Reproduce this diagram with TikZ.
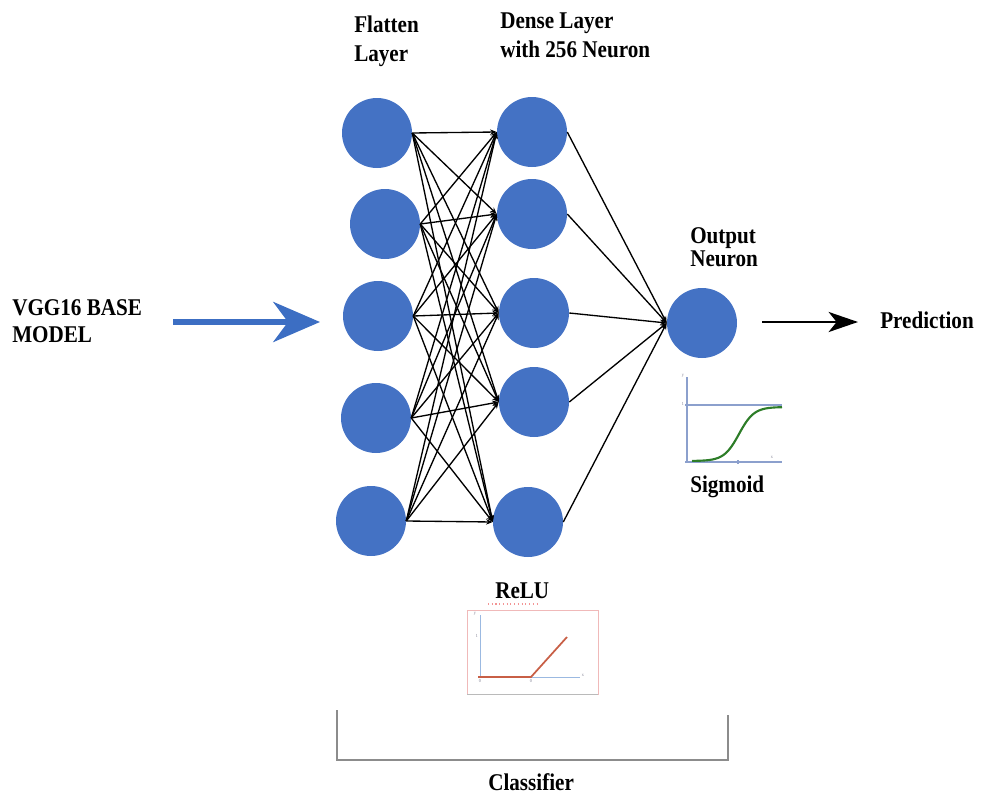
\documentclass[tikz,border=0pt]{standalone}
\usepackage{fontspec}
\setmainfont{Liberation Serif}[FakeStretch=0.88]
\usetikzlibrary{arrows.meta}
\definecolor{neuronblue}{RGB}{68,114,196}
\definecolor{arrowblue}{RGB}{60,110,195}
\definecolor{sigaxiscol}{RGB}{140,160,205}
\definecolor{sigcurvecol}{RGB}{45,125,40}
\definecolor{reluaxiscol}{RGB}{155,185,225}
\definecolor{relucurvecol}{RGB}{200,95,70}
\definecolor{reluframecol}{RGB}{240,185,185}
\definecolor{bracketcol}{RGB}{140,140,140}
\definecolor{ticklabel}{RGB}{120,120,140}

\begin{document}
\begin{tikzpicture}[x=0.75pt,y=-0.75pt,
  neuron/.style={circle, fill=neuronblue, minimum size=52.5pt, inner sep=0pt},
  lbl/.style={anchor=base west, inner sep=0pt, font=\fontsize{18}{21}\selectfont\bfseries},
  tinylbl/.style={inner sep=0pt, text=ticklabel, font=\fontsize{3.5}{4}\selectfont},
  link/.style={draw=black, line width=1pt, -{Stealth[length=5pt,width=4pt]}},
  feedarrow/.style={draw=arrowblue, line width=4.5pt, -{Stealth[length=35pt,width=30pt,inset=11pt]}},
  outarrow/.style={draw=black, line width=2.2pt, -{Stealth[length=22pt,width=15pt,inset=6pt]}},
  sigaxis/.style={draw=sigaxiscol, line width=0.8pt},
  reluaxis/.style={draw=reluaxiscol, line width=0.7pt}]

\useasboundingbox (0,0) rectangle (982,796);

% flatten layer
\node[neuron] (f1) at (377,133) {};
\node[neuron] (f2) at (385,224) {};
\node[neuron] (f3) at (378,316) {};
\node[neuron] (f4) at (376,418) {};
\node[neuron] (f5) at (371,521) {};

% dense layer
\node[neuron] (d1) at (532,132) {};
\node[neuron] (d2) at (532,214) {};
\node[neuron] (d3) at (534,313) {};
\node[neuron] (d4) at (534,402) {};
\node[neuron] (d5) at (528,522) {};

% output neuron
\node[neuron] (out) at (702,323) {};

% fully connected weights
\foreach \i in {1,...,5}{
  \foreach \j in {1,...,5}{
    \draw[link] (f\i.east) -- (d\j.west);
  }
}
\foreach \j in {1,...,5}{
  \draw[link] (d\j.east) -- (out.west);
}

% labels
\node[lbl] (vggA) at (12,315) {VGG16 BASE};
\node[lbl] (vggB) at (12,342) {MODEL};
\node[lbl] (flatA) at (354,32) {Flatten};
\node[lbl] (flatB) at (354,61) {Layer};
\node[lbl] (denseA) at (500,28) {Dense Layer};
\node[lbl] (denseB) at (500,57) {with 256 Neuron};
\node[lbl] (outA) at (690,243) {Output};
\node[lbl] (outB) at (690,266) {Neuron};
\node[lbl] (pred) at (880,328) {Prediction};
\node[lbl] (sig) at (690,492) {Sigmoid};
\node[lbl] (relu) at (495,598) {ReLU};
\node[lbl] (cls) at (488,790) {Classifier};

% input and output arrows
\coordinate (inS) at (173,322);
\coordinate (inE) at (320,322);
\draw[feedarrow] (inS) -- (inE);
\coordinate (predS) at (762,322);
\coordinate (predE) at (858,322);
\draw[outarrow] (predS) -- (predE);

% sigmoid sketch
\draw[sigaxis] (687,377) -- (687,463);
\draw[sigaxis] (685,462) -- (782,462);
\draw[sigaxis] (685,405) -- (782,405);
\draw[sigaxis] (738,460) -- (738,464);
\draw[draw=sigcurvecol, line width=1.6pt]
  plot[domain=692:782, samples=80, smooth] (\x,{461-54/(1+exp(-(\x-739)/7.5))});
\node[tinylbl] (sigy) at (683,376) {y};
\node[tinylbl] (sig1) at (683,404) {1};
\node[tinylbl] (sigx) at (772,457) {x};

% ReLU sketch
\draw[draw=reluframecol, line width=0.5pt] (467,610) rectangle (598,694);
\draw[draw=bracketcol!60, line width=0.6pt] (467,694) -- (598,694);
\draw[draw=reluframecol!80!red, line width=0.8pt, dotted] (488,604) -- (540,604);
\draw[reluaxis] (480,615) -- (480,678);
\draw[reluaxis] (478,677) -- (580,677);
\draw[draw=relucurvecol, line width=1.3pt] (478,677) -- (531,677) -- (567,637);
\node[tinylbl] (reluy) at (475,614) {y};
\node[tinylbl] (relu1) at (477,636) {1};
\node[tinylbl] (relu0) at (480,681) {0};
\node[tinylbl] (relu0b) at (531,681) {0};
\node[tinylbl] (relux) at (583,675) {x};

% classifier bracket
\draw[draw=bracketcol, line width=1pt] (337,710) -- (337,760) -- (728,760) -- (728,715);

\end{tikzpicture}
\end{document}
